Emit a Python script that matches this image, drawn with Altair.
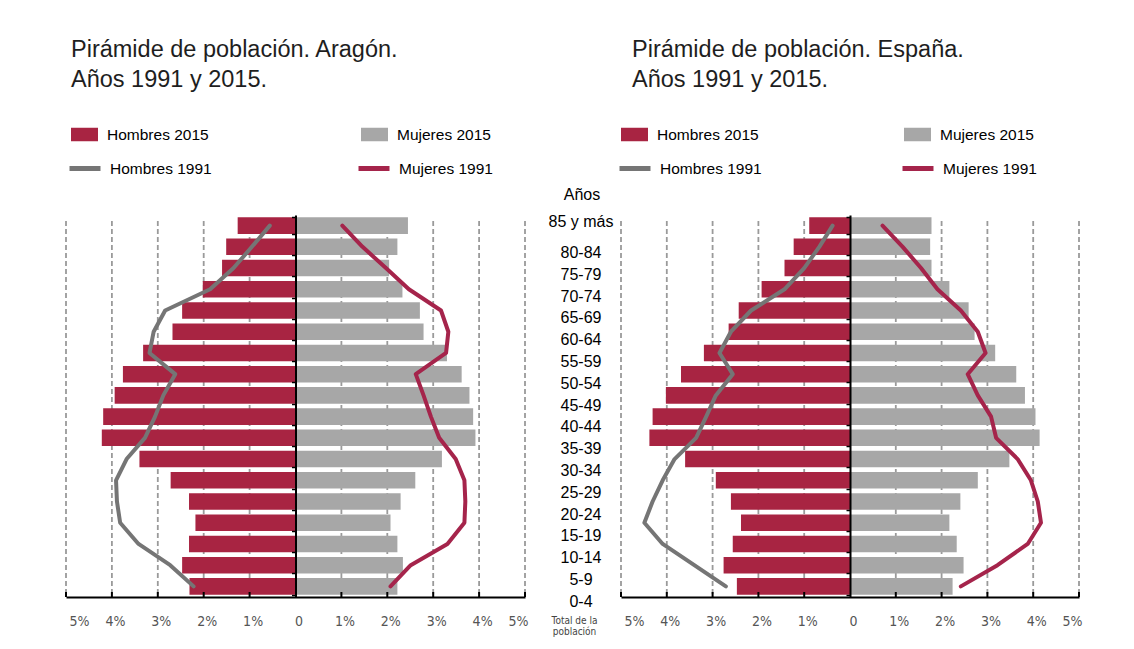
import altair as alt
import pandas as pd

ages = ["85 y más", "80-84", "75-79", "70-74", "65-69", "60-64", "55-59", "50-54", "45-49",
        "40-44", "35-39", "30-34", "25-29", "20-24", "15-19", "10-14", "5-9", "0-4"]

# Aragón
ara_h2015 = [1.26, 1.51, 1.60, 2.02, 2.47, 2.68, 3.32, 3.76, 3.94, 4.19, 4.22, 3.40, 2.72, 2.32, 2.18, 2.32, 2.47, 2.31]
ara_m2015 = [2.45, 2.22, 2.04, 2.33, 2.71, 2.79, 3.30, 3.62, 3.79, 3.87, 3.92, 3.19, 2.61, 2.29, 2.07, 2.22, 2.34, 2.22]
ara_h1991 = [0.56, 0.95, 1.35, 1.86, 2.84, 3.09, 3.18, 2.62, 2.88, 3.06, 3.28, 3.68, 3.91, 3.89, 3.82, 3.42, 2.73, 2.22]
ara_m1991 = [1.02, 1.46, 1.97, 2.47, 3.17, 3.33, 3.28, 2.62, 2.79, 2.95, 3.13, 3.49, 3.68, 3.70, 3.68, 3.31, 2.51, 2.07]

# España
esp_h2015 = [0.89, 1.23, 1.43, 1.93, 2.43, 2.65, 3.19, 3.69, 4.02, 4.31, 4.38, 3.60, 2.93, 2.60, 2.38, 2.56, 2.76, 2.47]
esp_m2015 = [1.78, 1.75, 1.78, 2.17, 2.59, 2.72, 3.17, 3.63, 3.82, 4.05, 4.14, 3.48, 2.79, 2.41, 2.17, 2.33, 2.48, 2.24]
esp_h1991 = [0.38, 0.67, 1.00, 1.43, 2.16, 2.60, 2.85, 2.56, 2.93, 3.14, 3.36, 3.83, 4.09, 4.31, 4.49, 4.09, 3.40, 2.71]
esp_m1991 = [0.71, 1.15, 1.55, 1.91, 2.42, 2.79, 2.96, 2.57, 2.79, 3.08, 3.19, 3.66, 3.95, 4.10, 4.17, 3.88, 3.22, 2.42]

tick_vals = [-5, -4, -3, -2, -1, 0, 1, 2, 3, 4, 5]
bar_series = ["Hombres 2015", "Mujeres 2015"]
line_series = ["Hombres 1991", "Mujeres 1991"]

CRIMSON = "#a82442"
CRIMSON_LINE = "#a5244b"
GRAY_BAR = "#a7a7a7"
GRAY_LINE = "#757575"
FONT = "Liberation Sans, Arial, sans-serif"
NARROW = "Liberation Sans Narrow, DejaVu Sans Condensed, Arial Narrow, sans-serif"

H = 382


def panel(h2015, m2015, h1991, m1991, place, W, title_dx, leg_x, colpad_fill, colpad_stroke):
    bars = pd.DataFrame({
        "edad": ages * 2,
        "serie": [bar_series[0]] * len(ages) + [bar_series[1]] * len(ages),
        "valor": [-v for v in h2015] + list(m2015),
    })
    lines = pd.DataFrame({
        "edad": ages * 2,
        "serie": [line_series[0]] * len(ages) + [line_series[1]] * len(ages),
        "valor": [-v for v in h1991] + list(m1991),
        "orden": list(range(len(ages))) * 2,
    })
    ticks = pd.DataFrame({"v": [t for t in tick_vals if t != 0]})

    xscale = alt.Scale(domain=[-5, 5], nice=False)
    yscale = alt.Scale(domain=ages, paddingInner=0.22, paddingOuter=0.11)
    xaxis = alt.Axis(
        values=tick_vals, title=None,
        labelExpr="datum.value == 0 ? '0' : abs(datum.value) + '%'",
        domainColor="black", domainWidth=2, ticks=False, grid=False,
        labelFont=NARROW, labelFontSize=14, labelColor="#555555",
        labelPadding=17, labelOffset=3)
    yaxis = alt.Axis(
        orient="left", offset=-W / 2, labels=False, title=None,
        domainColor="black", domainWidth=2, tickColor="black", tickWidth=1.5,
        tickSize=4, tickBand="extent", grid=False, zindex=1)

    grid = alt.Chart(ticks).mark_rule(color="#9a9a9a", strokeWidth=1.8, strokeDash=[5, 3]).encode(
        x=alt.X("v:Q", scale=xscale, axis=xaxis),
        y=alt.value(6),
        y2=alt.value(H),
    )
    bar = alt.Chart(bars).mark_bar().encode(
        x=alt.X("valor:Q", scale=xscale, axis=xaxis),
        y=alt.Y("edad:N", sort=ages, scale=yscale, axis=yaxis),
        fill=alt.Fill("serie:N", scale=alt.Scale(domain=bar_series, range=[CRIMSON, GRAY_BAR]),
                      legend=alt.Legend(title=None, orient="none", legendX=leg_x, legendY=-94,
                                        columns=2, columnPadding=colpad_fill, padding=0,
                                        symbolType="M-1,-0.5H1V0.5H-1Z", symbolSize=729,
                                        symbolStrokeWidth=0, labelFont=FONT, labelFontSize=15.5,
                                        labelColor="black", labelOffset=9)),
    )
    line = alt.Chart(lines).mark_line(strokeWidth=4, strokeCap="round", strokeJoin="round").encode(
        x=alt.X("valor:Q", scale=xscale, axis=xaxis),
        y=alt.Y("edad:N", sort=ages, scale=yscale, axis=yaxis),
        stroke=alt.Stroke("serie:N", scale=alt.Scale(domain=line_series, range=[GRAY_LINE, CRIMSON_LINE]),
                          legend=alt.Legend(title=None, orient="none", legendX=leg_x - 4, legendY=-64.5,
                                            columns=2, columnPadding=colpad_stroke, padding=0,
                                            symbolType="stroke", symbolSize=961, symbolStrokeWidth=5,
                                            labelFont=FONT, labelFontSize=15.5, labelColor="black",
                                            labelOffset=7)),
        order=alt.Order("orden:Q"),
    )
    tickmarks = alt.Chart(ticks).mark_rule(color="black", strokeWidth=2).encode(
        x=alt.X("v:Q", scale=xscale, axis=xaxis),
        y=alt.value(H - 5),
        y2=alt.value(H),
    )
    return alt.layer(grid, bar, line, tickmarks).properties(
        width=W, height=H,
        title=alt.TitleParams(
            text=["Pirámide de población. " + place, "Años 1991 y 2015."],
            anchor="start", frame="group", dx=title_dx, fontSize=23.5, font=FONT,
            fontWeight="normal", color="#1e1e1e", lineHeight=30, offset=30),
    )


left = panel(ara_h2015, ara_m2015, ara_h1991, ara_m1991, "Aragón.", 459, 5, 5, 152, 136)
right = panel(esp_h2015, esp_m2015, esp_h1991, esp_m1991, "España.", 458, 11, 0, 145, 130)

mid_df = pd.DataFrame({"edad": ages})
mid_scale = alt.Scale(type="point", domain=ages, padding=0.742)
mid_axis = alt.Axis(
    labels=False, ticks=False, domain=False, grid=False,
    title=["Total de la", "población"], titleAngle=0, titleX=49, titleY=400,
    titleAlign="center", titleBaseline="top", titleFont=NARROW, titleFontSize=10,
    titleFontWeight="normal", titleColor="#444444", titleLineHeight=11)
mid_rest = alt.Chart(mid_df).transform_filter(alt.datum.edad != ages[0]).mark_text(
    font=FONT, fontSize=16, color="black", dx=8, align="center", baseline="middle").encode(
    y=alt.Y("edad:N", sort=ages, scale=mid_scale, axis=mid_axis),
    text="edad:N",
)
mid_top = alt.Chart(mid_df).transform_filter(alt.datum.edad == ages[0]).mark_text(
    font=FONT, fontSize=16, color="black", dx=8, dy=-9, align="center", baseline="middle").encode(
    y=alt.Y("edad:N", sort=ages, scale=mid_scale, axis=mid_axis),
    text="edad:N",
)
mid = alt.layer(mid_rest, mid_top).properties(
    width=96, height=403,
    title=alt.TitleParams(text="Años", anchor="middle", dx=9, fontSize=16, font=FONT,
                          fontWeight="normal", color="black", offset=11),
)

chart = alt.hconcat(left, mid, right, spacing=0, bounds="flush").resolve_scale(
    fill="independent", stroke="independent"
).properties(
    padding={"left": 57, "top": 29, "right": 10, "bottom": 5}
).configure_view(strokeWidth=0)

chart.save("out.html", embed_options={"renderer": "svg", "actions": False})
